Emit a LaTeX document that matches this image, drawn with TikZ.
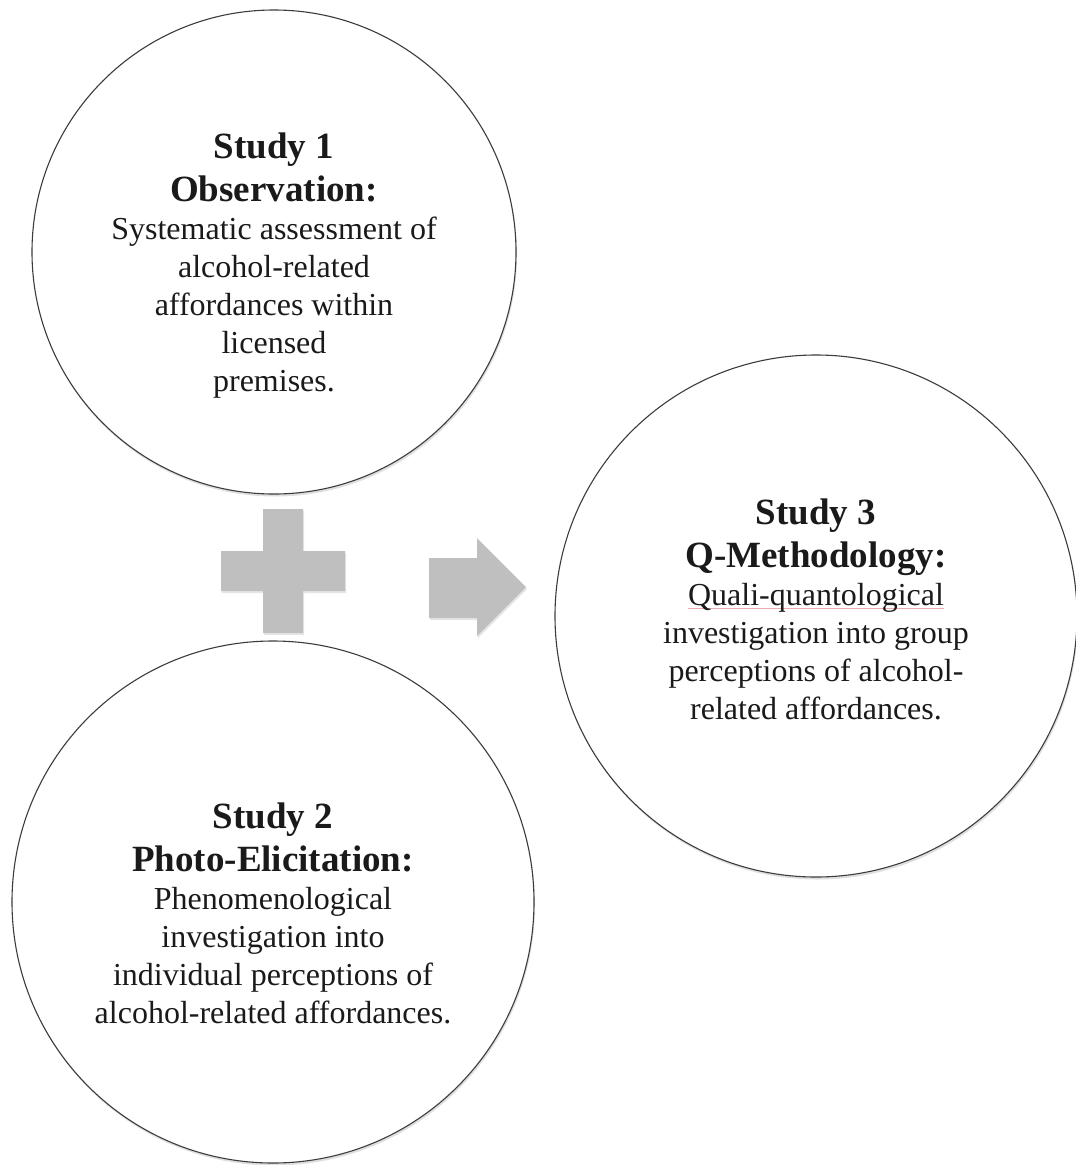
\documentclass[tikz,border=0pt]{standalone}
\usepackage{fontspec}
\setmainfont{Liberation Serif}
\usetikzlibrary{shadows}
\definecolor{cRing}{RGB}{60, 60, 60}
\definecolor{cSign}{RGB}{191, 191, 191}
\definecolor{cText}{RGB}{26, 26, 26}
\definecolor{cSpell}{RGB}{236, 170, 180}
\newcommand{\fixspace}{\spaceskip=\fontdimen2\font\relax\xspaceskip=\fontdimen2\font\relax}
\newcommand{\headfont}{\fontsize{37}{43}\selectfont\bfseries\fixspace}
\newcommand{\bodyfont}{\fontsize{32}{38}\selectfont\mdseries\fixspace}
\newcommand{\spellmark}[1]{\leavevmode\setbox0=\hbox{#1}\rlap{\textcolor{cSpell}{\rule[-4pt]{\wd0}{0.8pt}}}\box0}

\begin{document}
\begin{tikzpicture}[
    x=1pt, y=-1pt,
    study/.style={circle, draw=cRing, line width=1.1pt, fill=white,
        inner sep=0pt,
        drop shadow={shadow xshift=1pt, shadow yshift=-2.5pt, opacity=0.25}},
    studytext/.style={inner sep=0pt, text=cText, text width=420pt, align=center},
    sign/.style={fill=cSign,
        drop shadow={shadow xshift=1pt, shadow yshift=-2pt, opacity=0.2}}
]

    % ================= page =================
    \fill[white] (0,0) rectangle (1076,1165);
    \useasboundingbox (0,0) rectangle (1076,1165);

    % ================= Study 1 (top left) =================
    \node[study, minimum size=484pt] (obs) at (274,252) {};
    \node[studytext] (obsText) at ([yshift=-14pt]obs.center) {%
        \headfont Study 1\\ Observation:\par
        \bodyfont Systematic assessment of\\ alcohol-related\\
        affordances within\\ licensed\\ premises.\par};

    % ================= Study 3 (right) =================
    \node[study, minimum size=522pt] (qmeth) at (816,616) {};
    \node[studytext] (qmethText) at ([yshift=7pt]qmeth.center) {%
        \headfont Study 3\\ Q-Methodology:\par
        \bodyfont \spellmark{Quali-quantological}\\ investigation into group\\
        perceptions of alcohol-\\ related affordances.\par};

    % ================= Study 2 (bottom left) =================
    \node[study, minimum size=522pt] (photo) at (273,902) {};
    \node[studytext] (photoText) at ([yshift=-11pt]photo.center) {%
        \headfont Study 2\\ Photo-Elicitation:\par
        \bodyfont Phenomenological\\ investigation into\\
        individual perceptions of\\ alcohol-related affordances.\par};

    % ================= plus sign =================
    \fill[sign] (263,509) -- (303,509) -- (303,551) -- (345,551) -- (345,591)
        -- (303,591) -- (303,633) -- (263,633) -- (263,591) -- (221,591)
        -- (221,551) -- (263,551) -- cycle;

    % ================= block arrow =================
    \fill[sign] (429,558) -- (477,558) -- (477,538) -- (526,587)
        -- (477,636) -- (477,618) -- (429,618) -- cycle;

\end{tikzpicture}
\end{document}
